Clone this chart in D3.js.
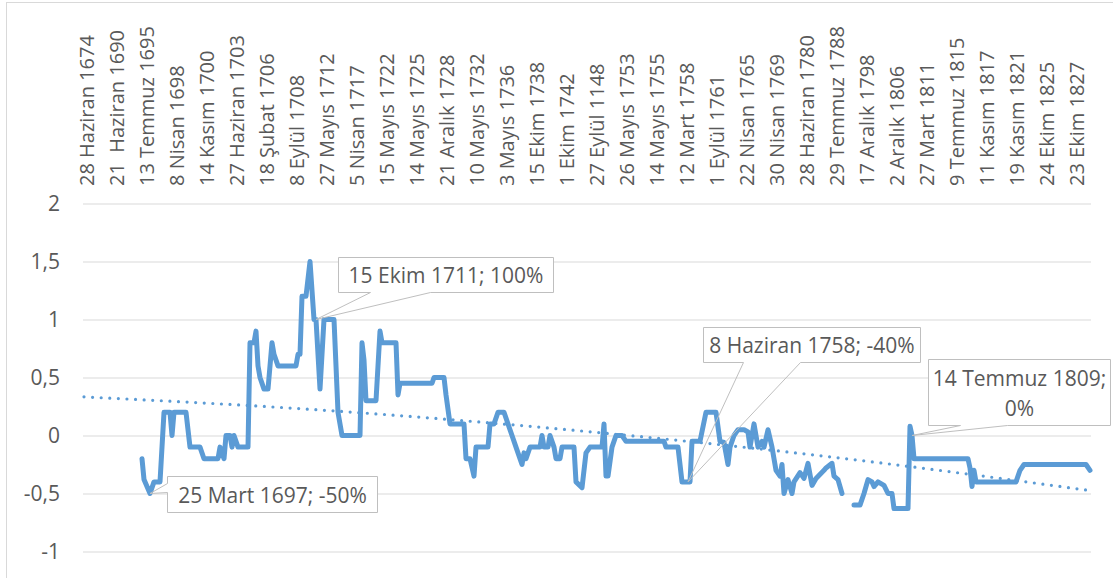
<!DOCTYPE html>
<html>
<head>
<meta charset="utf-8">
<script src="https://cdn.jsdelivr.net/npm/d3@7"></script>
<style>
  html, body { margin: 0; padding: 0; background: #fff; }
  svg { display: block; font-family: 'Open Sans', sans-serif; }
</style>
</head>
<body>
<svg id="chart" width="1113" height="578"></svg>
<script>
// category axis: one label every 15 categories
const categoryLabels = [
  '28 Haziran 1674', '21  Haziran 1690', '13 Temmuz 1695', '8 Nisan 1698', '14 Kasım 1700',
  '27 Haziran 1703', '18 Şubat 1706', '8 Eylül 1708', '27 Mayıs 1712', '5 Nisan 1717',
  '15 Mayıs 1722', '14 Mayıs 1725', '21 Aralık 1728', '10 Mayıs 1732', '3 Mayıs 1736',
  '15 Ekim 1738', '1 Ekim 1742', '27 Eylül 1148', '26 Mayıs 1753', '14 Mayıs 1755',
  '12 Mart 1758', '1 Eylül 1761', '22 Nisan 1765', '30 Nisan 1769', '28 Haziran 1780',
  '29 Temmuz 1788', '17 Aralık 1798', '2 Aralık 1806', '27 Mart 1811', '9 Temmuz 1815',
  '11 Kasım 1817', '19 Kasım 1821', '24 Ekim 1825', '23 Ekim 1827'
];
const categoryCount = 504;
const labelStep = 15;

const yTicks = [2, 1.5, 1, 0.5, 0, -0.5, -1];

// [category index, value]; null = no data
const series = [
  [29, -0.2], [30, -0.38], [33, -0.5], [35, -0.4], [38, -0.4], [40, 0.2], [43, 0.2], [44, 0], [45, 0.2],
  [51, 0.2], [53, -0.1], [58, -0.1], [60, -0.2], [67, -0.2], [68, -0.1], [70, -0.2], [71, 0], [73, 0],
  [74, -0.1], [75, 0], [77, -0.1], [82, -0.1], [83, 0.8], [85, 0.8], [86, 0.9], [87, 0.6], [88, 0.5],
  [90, 0.4], [92, 0.4], [94, 0.8], [95, 0.7], [97, 0.6], [106, 0.6], [107, 0.7], [108, 0.7], [109, 1.2],
  [111, 1.2], [113, 1.5], [115, 1.0], [116, 1.0], [118, 0.4], [120, 1.0], [125, 1.0], [126, 0.6],
  [127, 0.2], [129, 0], [138, 0], [139, 0.8], [140, 0.65], [141, 0.3], [146, 0.3], [148, 0.9],
  [149, 0.8], [156, 0.8], [157, 0.35], [158, 0.45], [174, 0.45], [175, 0.5], [180, 0.5], [181, 0.35],
  [183, 0.1], [190, 0.1], [191, -0.2], [193, -0.2], [195, -0.35], [196, -0.1], [202, -0.1], [203, 0.1],
  [205, 0.1], [207, 0.2], [210, 0.2], [213, 0.05], [214, 0], [216, -0.1], [219, -0.25], [220, -0.15], [221, -0.2],
  [223, -0.1], [228, -0.1], [229, 0], [230, -0.1], [232, -0.1], [233, 0], [235, -0.1], [236, -0.2],
  [238, -0.2], [239, -0.1], [245, -0.1], [246, -0.4], [249, -0.45], [251, -0.15], [253, -0.1],
  [259, -0.1], [260, 0.1], [261, -0.35], [262, -0.35], [264, -0.1], [266, 0], [269, 0], [271, -0.05],
  [290, -0.05], [291, -0.1], [297, -0.1], [299, -0.4], [303, -0.4], [304, -0.05], [308, -0.05],
  [311, 0.2], [316, 0.2], [318, -0.05], [320, -0.06], [322, -0.25], [323, -0.1], [325, 0], [327, 0.05],
  [330, 0.05], [332, 0.03], [333, -0.1], [335, 0.1], [337, -0.1], [339, -0.05], [340, -0.1], [342, 0.05],
  [344, -0.1], [346, -0.3], [348, -0.35], [349, -0.25], [350, -0.5], [352, -0.38], [354, -0.5],
  [355, -0.4], [358, -0.32], [360, -0.37], [362, -0.24], [364, -0.43], [366, -0.37], [370, -0.3],
  [371, -0.28], [374, -0.24], [375, -0.35], [377, -0.38], [379, -0.5], [380, null], [385, -0.6],
  [388, -0.6], [390, -0.5], [392, -0.38], [394, -0.4], [395, -0.44], [397, -0.4], [400, -0.43],
  [402, -0.5], [404, -0.5], [405, -0.63], [412, -0.63], [413, 0.08], [414, 0], [415, -0.2], [442, -0.2],
  [443, -0.28], [444, -0.44], [445, -0.3], [446, -0.4], [466, -0.4], [468, -0.3], [470, -0.25],
  [501, -0.25], [503, -0.3]
];

// trendline
const trendPoints = [[0, 0.333], [100, 0.24], [200, 0.113], [300, -0.047], [400, -0.24], [501, -0.47]];

const callouts = [
  { idx: 33, value: -0.5, text: ['25 Mart 1697; -50%'] },
  { idx: 116, value: 1.0, text: ['15 Ekim 1711; 100%'] },
  { idx: 302, value: -0.4, text: ['8 Haziran 1758; -40%'] },
  { idx: 414, value: 0, text: ['14 Temmuz 1809;', '0%'] }
];
// box offset from anchor [dx, dy, w, h], wedge [side, from, to]
const calloutLayout = [
  { box: [17, -17.5, 210, 36], wedge: ['left', 7, 16] },
  { box: [22, -62.5, 215, 35], wedge: ['bottom', 32, 92] },
  { box: [15, -154.5, 217, 35], wedge: ['bottom', 40, 97] },
  { box: [16, -76.5, 182, 66], wedge: ['bottom', 32, 79] }
];

const textColor = '#595959';
const gridColor = '#D9D9D9';
const lineColor = '#5B9BD5';

const svg = d3.select('#chart');
const plot = { left: 83, right: 1091, top: 203.5, bottom: 551.5 };

// chart border
svg.append('rect')
  .attr('x', 6.5).attr('y', 2.5)
  .attr('width', 1200).attr('height', 700)
  .attr('fill', 'none').attr('stroke', gridColor);

const x = d3.scaleLinear().domain([0, categoryCount]).range([plot.left, plot.right]);
const xc = i => x(i + 0.5);
const y = d3.scaleLinear().domain([-1, 2]).range([plot.bottom, plot.top]);

const trLocale = d3.formatLocale({ decimal: ',', thousands: '.', grouping: [3], currency: ['', ''], minus: '-' });
const fmt = trLocale.format('~g');

// y axis + gridlines
const yAxis = svg.append('g')
  .attr('transform', `translate(${plot.left},0)`)
  .call(d3.axisLeft(y).tickValues(yTicks).tickFormat(fmt)
    .tickSize(-(plot.right - plot.left)).tickPadding(23));
yAxis.select('.domain').remove();
yAxis.selectAll('.tick line').attr('stroke', gridColor);
yAxis.selectAll('.tick text')
  .attr('fill', textColor)
  .style('font-family', "'Open Sans', sans-serif")
  .style('font-size', '21px');

// category labels at the top, rotated
svg.append('g').selectAll('text')
  .data(categoryLabels)
  .join('text')
  .attr('transform', (d, i) => `translate(${xc(i * labelStep) + 2},186) rotate(-90)`)
  .attr('text-anchor', 'start')
  .attr('dominant-baseline', 'central')
  .attr('fill', textColor)
  .style('font-size', '20px')
  .style('white-space', 'pre')
  .text(d => d);

// data line
const line = d3.line()
  .defined(d => d[1] !== null)
  .x(d => xc(d[0]))
  .y(d => y(d[1]));

svg.append('path')
  .datum(series)
  .attr('d', line)
  .attr('fill', 'none')
  .attr('stroke', lineColor)
  .attr('stroke-width', 5)
  .attr('stroke-linejoin', 'round')
  .attr('stroke-linecap', 'round');

// trendline (dotted)
svg.append('path')
  .datum(trendPoints)
  .attr('d', d3.line().x(d => xc(d[0])).y(d => y(d[1])).curve(d3.curveNatural))
  .attr('fill', 'none')
  .attr('stroke', lineColor)
  .attr('stroke-width', 3.2)
  .attr('stroke-linecap', 'round')
  .attr('stroke-dasharray', '0 8.6');

// callouts
const cg = svg.append('g');
callouts.forEach((c, k) => {
  const lay = calloutLayout[k];
  const ax = xc(c.idx), ay = y(c.value);
  const l = Math.round(ax + lay.box[0]) + 0.5;
  const t = Math.round(ay + lay.box[1]) + 0.5;
  const w = lay.box[2], h = lay.box[3];
  const r = l + w, b = t + h;

  cg.append('rect')
    .attr('x', l).attr('y', t).attr('width', w).attr('height', h)
    .attr('fill', '#fff');

  let pts;
  const [side, f, to] = lay.wedge;
  if (side === 'bottom') {
    pts = [[l, t], [r, t], [r, b], [l + to, b], [ax, ay], [l + f, b], [l, b], [l, t]];
  } else {
    pts = [[l, t], [r, t], [r, b], [l, b], [l, t + to], [ax, ay], [l, t + f], [l, t]];
  }
  cg.append('path')
    .attr('d', d3.line()(pts))
    .attr('fill', 'none')
    .attr('stroke', '#BFBFBF')
    .attr('stroke-width', 1);

  const cy = t + h / 2;
  const lh = 30;
  c.text.forEach((s, j) => {
    cg.append('text')
      .attr('x', l + w / 2)
      .attr('y', cy + (j - (c.text.length - 1) / 2) * lh)
      .attr('text-anchor', 'middle')
      .attr('dominant-baseline', 'central')
      .attr('fill', textColor)
      .style('font-size', '21px')
      .text(s);
  });
});
</script>
</body>
</html>
